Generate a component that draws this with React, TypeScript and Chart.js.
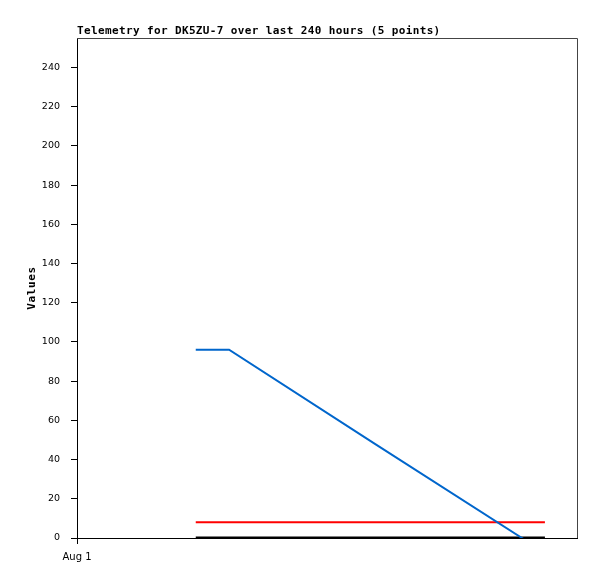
import React, { useEffect, useRef } from 'react';
import { Chart, registerables } from 'chart.js';

Chart.register(...registerables);

const TITLE = 'Telemetry for DK5ZU-7 over last 240 hours (5 points)';
const Y_LABEL = 'Values';
const X_TICK_LABEL = 'Aug 1';
const X_RANGE_HOURS = [0, 240];
const Y_RANGE = [0, 255];
const Y_STEP = 20;
const HOURS = [57, 73, 143, 213.6, 224.6];
const SERIES_BLUE = [96, 96, 48, 0, -7.5];
const SERIES_RED = [8, 8, 8, 8, 8];
const SERIES_BLACK = [0, 0, 0, 0, 0];

const textPlugin = {
  id: 'textPlugin',
  afterDraw(chart: any) {
    const { ctx, chartArea } = chart;
    ctx.save();
    // frame top/right
    ctx.strokeStyle = '#444';
    ctx.lineWidth = 1;
    ctx.beginPath();
    ctx.moveTo(chartArea.left, Math.floor(chartArea.top) + 0.5);
    ctx.lineTo(Math.floor(chartArea.right) + 0.5, Math.floor(chartArea.top) + 0.5);
    ctx.lineTo(Math.floor(chartArea.right) + 0.5, chartArea.bottom);
    ctx.stroke();
    // title
    ctx.fillStyle = '#000';
    ctx.font = 'bold 11px "DejaVu Sans Mono"';
    (ctx as any).letterSpacing = '0.37px';
    ctx.textAlign = 'left';
    ctx.textBaseline = 'alphabetic';
    ctx.fillText(TITLE, chartArea.left, 34);
    // y label
    (ctx as any).letterSpacing = '0.6px';
    ctx.translate(32, (chartArea.top + chartArea.bottom) / 2);
    ctx.rotate(-Math.PI / 2);
    ctx.textAlign = 'center';
    ctx.textBaseline = 'middle';
    ctx.fillText(Y_LABEL, 0, 0);
    ctx.restore();
  },
};

export default function App() {
  const ref = useRef<HTMLCanvasElement | null>(null);
  useEffect(() => {
    document.body.style.margin = '0';
    if (!ref.current) return;
    const pts = (vals: number[]) => HOURS.map((h, i) => ({ x: h, y: vals[i] }));
    const chart = new Chart(ref.current, {
      type: 'line',
      data: {
        datasets: [
          { data: pts(SERIES_BLUE), borderColor: '#0066cc', borderWidth: 2, pointRadius: 0, clip: 0, tension: 0 },
          { data: pts(SERIES_RED), borderColor: '#ff0000', borderWidth: 2, pointRadius: 0, clip: 0, tension: 0 },
          { data: pts(SERIES_BLACK), borderColor: '#000000', borderWidth: 3, pointRadius: 0, clip: 0, tension: 0 },
        ],
      },
      options: {
        responsive: false,
        animation: false,
        layout: { padding: { left: 0, top: 38, right: 20, bottom: 0 } },
        plugins: { legend: { display: false }, tooltip: { enabled: false }, title: { display: false } },
        scales: {
          x: {
            type: 'linear',
            min: X_RANGE_HOURS[0],
            max: X_RANGE_HOURS[1],
            afterBuildTicks: (scale: any) => {
              scale.ticks = [{ value: X_RANGE_HOURS[0] }];
            },
            afterFit: (scale: any) => {
              scale.height = 41;
            },
            ticks: {
              callback: () => X_TICK_LABEL,
              font: { family: 'DejaVu Sans', size: 10 },
              color: '#000',
              padding: 7,
              maxRotation: 0,
            },
            grid: { display: true, drawOnChartArea: false, drawTicks: true, tickLength: 6, color: '#000' },
            border: { display: true, color: '#000' },
          },
          y: {
            type: 'linear',
            min: Y_RANGE[0],
            max: Y_RANGE[1],
            afterBuildTicks: (scale: any) => {
              scale.ticks = scale.ticks.filter((t: any) => t.value % Y_STEP === 0);
            },
            afterFit: (scale: any) => {
              scale.width = 77;
            },
            ticks: {
              stepSize: Y_STEP,
              font: { family: 'DejaVu Sans', size: 9.5 },
              color: '#000',
              padding: 11,
            },
            grid: { display: true, drawOnChartArea: false, drawTicks: true, tickLength: 6, color: '#000' },
            border: { display: true, color: '#000' },
          },
        },
      },
      plugins: [textPlugin],
    });
    return () => chart.destroy();
  }, []);
  return <canvas ref={ref} width={597} height={579} style={{ display: 'block' }} />;
}
